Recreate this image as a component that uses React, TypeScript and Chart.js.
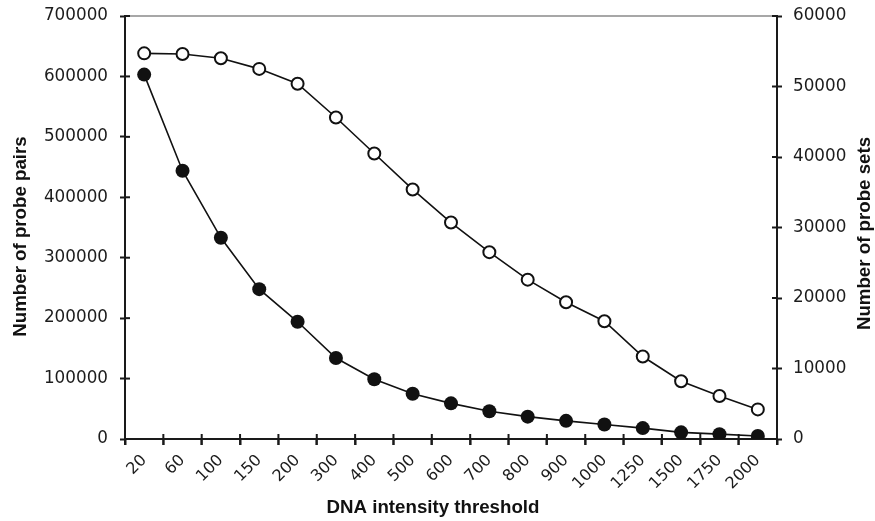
import React, { useEffect, useRef } from 'react';
import { Chart, registerables } from 'chart.js';

Chart.register(...registerables);

const thresholds = ['20', '60', '100', '150', '200', '300', '400', '500', '600', '700', '800', '900', '1000', '1250', '1500', '1750', '2000'];
const probePairs = [603000, 444000, 333000, 248000, 194000, 134000, 99000, 75000, 59000, 46000, 37000, 30000, 24000, 18000, 11000, 8000, 5000];
const probeSets = [54700, 54600, 54000, 52500, 50400, 45600, 40500, 35400, 30700, 26500, 22600, 19400, 16700, 11700, 8200, 6100, 4200];

const leftTitle = 'Number of probe pairs';
const rightTitle = 'Number of probe sets';
const bottomTitle = 'DNA intensity threshold';

const tickFont = { family: '"DejaVu Sans", sans-serif', size: 16.8 };
const xTickFont = { family: '"DejaVu Sans", sans-serif', size: 16 };
const titleFont = 'bold 18.7px "Liberation Sans", Arial, sans-serif';

const axisDecor = {
  id: 'axisDecor',
  beforeDatasetsDraw(chart: any) {
    const ctx = chart.ctx;
    const { left, right, top, bottom } = chart.chartArea;
    ctx.save();
    ctx.strokeStyle = '#8a8a8a';
    ctx.lineWidth = 1.5;
    ctx.beginPath();
    ctx.moveTo(left, top);
    ctx.lineTo(right, top);
    ctx.stroke();

    ctx.strokeStyle = '#1a1a1a';
    ctx.lineWidth = 2;
    const seg = (x1: number, y1: number, x2: number, y2: number) => {
      ctx.beginPath();
      ctx.moveTo(x1, y1);
      ctx.lineTo(x2, y2);
      ctx.stroke();
    };
    const y = chart.scales.y;
    y.ticks.forEach((_: any, i: number) => {
      const p = y.getPixelForTick(i);
      seg(left, p, left + 5, p);
    });
    const y1 = chart.scales.y1;
    y1.ticks.forEach((_: any, i: number) => {
      const p = y1.getPixelForTick(i);
      seg(right - 5, p, right, p);
    });
    const x = chart.scales.x;
    const n = x.ticks.length;
    const step = x.getPixelForTick(1) - x.getPixelForTick(0);
    for (let i = 0; i <= n; i++) {
      const p = x.getPixelForTick(0) - step / 2 + i * step;
      seg(p, bottom - 5, p, bottom + 6);
    }
    ctx.restore();
  },
  afterDraw(chart: any) {
    const ctx = chart.ctx;
    const { left, right, top, bottom } = chart.chartArea;
    const midY = (top + bottom) / 2;
    ctx.save();
    ctx.fillStyle = '#111';
    ctx.font = titleFont;
    ctx.textAlign = 'center';
    ctx.textBaseline = 'middle';

    ctx.save();
    ctx.translate(21, midY + 9);
    ctx.rotate(-Math.PI / 2);
    ctx.fillText(leftTitle, 0, 0);
    ctx.restore();

    ctx.save();
    ctx.translate(chart.width - 10, midY + 6);
    ctx.rotate(-Math.PI / 2);
    ctx.fillText(rightTitle, 0, 0);
    ctx.restore();

    ctx.fillText(bottomTitle, (left + right) / 2 - 18, chart.height - 13);
    ctx.restore();
  },
};

const noPad = (s: any) => {
  s.paddingTop = 0;
  s.paddingBottom = 0;
  s.paddingLeft = 0;
  s.paddingRight = 0;
};

export default function App() {
  const ref = useRef<HTMLCanvasElement | null>(null);

  useEffect(() => {
    if (!ref.current) return;
    const chart = new Chart(ref.current, {
      type: 'line',
      data: {
        labels: thresholds,
        datasets: [
          {
            label: 'Number of probe sets',
            data: probeSets,
            yAxisID: 'y1',
            borderColor: '#111',
            borderWidth: 1.6,
            pointRadius: 6,
            pointBorderWidth: 2,
            pointBackgroundColor: '#ffffff',
            pointBorderColor: '#111',
            tension: 0,
          },
          {
            label: 'Number of probe pairs',
            data: probePairs,
            yAxisID: 'y',
            borderColor: '#111',
            borderWidth: 1.6,
            pointRadius: 7,
            pointBorderWidth: 0,
            pointBackgroundColor: '#111',
            pointBorderColor: '#111',
            tension: 0,
          },
        ],
      },
      options: {
        responsive: false,
        animation: false,
        layout: { padding: { top: 16, left: 0, right: 0, bottom: 0 } },
        plugins: {
          legend: { display: false },
          tooltip: { enabled: false },
        },
        scales: {
          x: {
            type: 'category',
            offset: true,
            grid: {
              offset: true,
              drawOnChartArea: false,
              drawTicks: true,
              tickLength: 6,
              tickColor: '#1a1a1a',
              tickWidth: 2,
            },
            border: { display: true, color: '#1a1a1a', width: 2 },
            ticks: {
              color: '#1c1c1c',
              font: xTickFont,
              minRotation: 45,
              maxRotation: 45,
              padding: 6,
              autoSkip: false,
            },
            afterFit: (s: any) => {
              s.height = 82;
              noPad(s);
            },
          },
          y: {
            position: 'left',
            min: 0,
            max: 700000,
            grid: {
              drawOnChartArea: false,
              drawTicks: true,
              tickLength: 5,
              tickColor: '#1a1a1a',
              tickWidth: 2,
            },
            border: { display: true, color: '#1a1a1a', width: 2 },
            ticks: {
              stepSize: 100000,
              color: '#1c1c1c',
              font: tickFont,
              padding: 12,
              callback: (v: any) => String(v),
            },
            afterFit: (s: any) => {
              s.width = 125;
              noPad(s);
            },
          },
          y1: {
            position: 'right',
            min: 0,
            max: 60000,
            grid: {
              drawOnChartArea: false,
              drawTicks: true,
              tickLength: 5,
              tickColor: '#1a1a1a',
              tickWidth: 2,
            },
            border: { display: true, color: '#1a1a1a', width: 2 },
            ticks: {
              stepSize: 10000,
              color: '#1c1c1c',
              font: tickFont,
              padding: 11,
              callback: (v: any) => String(v),
            },
            afterFit: (s: any) => {
              s.width = 98;
              noPad(s);
            },
          },
        },
      },
      plugins: [axisDecor],
    });
    return () => chart.destroy();
  }, []);

  return (
    <div style={{ position: 'absolute', left: 0, top: 0, width: 875, height: 521, background: '#fff' }}>
      <canvas ref={ref} width={875} height={521} style={{ width: 875, height: 521, display: 'block' }} />
    </div>
  );
}
